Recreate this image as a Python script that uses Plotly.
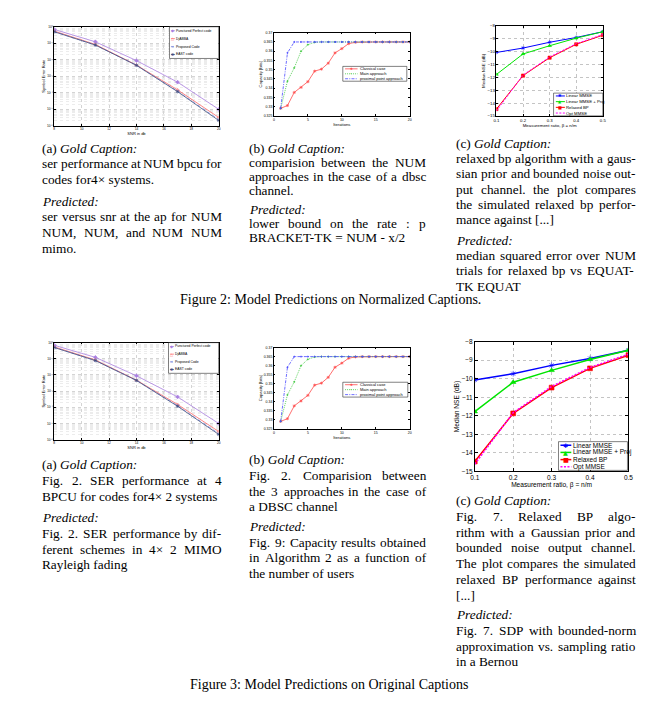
import plotly.graph_objects as go

FIG_W, FIG_H = 661, 711
SERIF = "Liberation Serif, Times New Roman, serif"
SANS = "Liberation Sans, Arial, sans-serif"

# ---------------- data : (a) SER vs SNR ----------------
snr_db = [8, 11, 14, 17, 20]
ser_punctured = [0.69, 0.123, 8.9e-3, 4.4e-4, 1.0e-5]
ser_djabba = [0.55, 0.085, 4.8e-3, 1.5e-4, 3.2e-6]
ser_proposed = [0.51, 0.079, 4.7e-3, 1.26e-4, 2.4e-6]
ser_east = [0.50, 0.078, 4.6e-3, 1.17e-4, 2.1e-6]
ser_names = ["Punctured Perfect code", "DjABBA", "Proposed Code", "EAST code"]
snr_ticks = [8, 10, 12, 14, 16, 18, 20]
ser_tick_exponents = [0, -1, -2, -3, -4, -5, -6]
ser_tick_labels = ["10\u2070", "10\u207b\u00b9", "10\u207b\u00b2", "10\u207b\u00b3",
                   "10\u207b\u2074", "10\u207b\u2075", "10\u207b\u2076"]

# ---------------- data : (b) capacity vs iterations ----------------
iterations = [1, 2, 3, 4, 5, 6, 7, 8, 9, 10, 11, 12, 13, 14, 15, 16, 17, 18, 19, 20]
cap_classical = [0.3291, 0.3306, 0.3377, 0.3404, 0.3435, 0.3492, 0.3503, 0.3535, 0.3591, 0.3614,
                 0.3641, 0.3648, 0.3650, 0.3650, 0.3650, 0.3650, 0.3650, 0.3650, 0.3650, 0.3650]
cap_main = [0.3291, 0.3438, 0.3510, 0.3600, 0.3635, 0.3648, 0.3650, 0.3650, 0.3650, 0.3650,
            0.3650, 0.3650, 0.3650, 0.3650, 0.3650, 0.3650, 0.3650, 0.3650, 0.3650, 0.3650]
cap_proximal = [0.3291, 0.3591, 0.3650, 0.3650, 0.3650, 0.3650, 0.3650, 0.3650, 0.3650, 0.3650,
                0.3650, 0.3650, 0.3650, 0.3650, 0.3650, 0.3650, 0.3650, 0.3650, 0.3650, 0.3650]
cap_names = ["Classical case", "Main approach", "proximal point approach"]
iter_ticks = [0, 5, 10, 15, 20]
cap_ticks = [0.325, 0.33, 0.335, 0.34, 0.345, 0.35, 0.355, 0.36, 0.365, 0.37]
cap_tick_labels = ["0.325", "0.33", "0.335", "0.34", "0.345", "0.35", "0.355", "0.36", "0.365", "0.37"]

# ---------------- data : (c) NSE vs measurement ratio ----------------
ratio = [0.1, 0.2, 0.3, 0.4, 0.5]
nse_linear = [-10.07, -9.73, -9.28, -8.91, -8.46]
nse_linear_proj = [-11.78, -10.19, -9.55, -8.96, -8.46]
nse_relaxed = [-14.47, -11.87, -10.48, -9.44, -8.73]
nse_opt = [-14.61, -11.83, -10.42, -9.39, -8.68]
nse_names = ["Linear MMSE", "Linear MMSE + Proj", "Relaxed BP", "Opt MMSE"]
ratio_ticks = [0.1, 0.2, 0.3, 0.4, 0.5]
nse_ticks = [-15, -14, -13, -12, -11, -10, -9, -8]

# ---------------- caption texts ----------------
fig2_title = "Figure 2: Model Predictions on Normalized Captions."
fig3_title = "Figure 3: Model Predictions on Original Captions"
cap_a1_gold = ["ser performance at NUM bpcu for", "codes for4\u00d7 systems."]
cap_a1_pred = ["ser versus snr at the ap for NUM", "NUM, NUM, and NUM NUM", "mimo."]
cap_b1_gold = ["comparision between the NUM", "approaches in the case of a dbsc", "channel."]
cap_b1_pred = ["lower bound on the rate : p", "BRACKET-TK = NUM - x/2"]
cap_c1_gold = ["relaxed bp algorithm with a gaus-", "sian prior and bounded noise out-",
               "put channel. the plot compares", "the simulated relaxed bp perfor-",
               "mance against [...]"]
cap_c1_pred = ["median squared error over NUM", "trials for relaxed bp vs EQUAT-", "TK EQUAT"]
cap_a2_gold = ["Fig. 2. SER performance at 4", "BPCU for codes for4\u00d7 2 systems"]
cap_a2_pred = ["Fig. 2. SER performance by dif-", "ferent schemes in 4\u00d7 2 MIMO", "Rayleigh fading"]
cap_b2_gold = ["Fig. 2. Comparision between", "the 3 approaches in the case of", "a DBSC channel"]
cap_b2_pred = ["Fig. 9: Capacity results obtained", "in Algorithm 2 as a function of",
               "the number of users"]
cap_c2_gold = ["Fig. 7. Relaxed BP algo-", "rithm with a Gaussian prior and",
               "bounded noise output channel.", "The plot compares the simulated",
               "relaxed BP performance against", "[...]"]
cap_c2_pred = ["Fig. 7. SDP with bounded-norm", "approximation vs. sampling ratio", "in a Bernou"]

# ---------------- helpers ----------------
fig = go.Figure()
layout_axes = {}
shapes = []
annotations = []


def fx(x):
    return x / FIG_W


def fy(y):
    return 1 - y / FIG_H


def aref(n, kind):
    return kind + ("" if n == 1 else str(n))


def aname(n, kind):
    return kind + "axis" + ("" if n == 1 else str(n))


PANELS = {
    "a1": dict(n=1, box=(50, 23, 217, 123), tick=3.2, title=4.0, leg=3.4, mk=3.0, lw=0.8),
    "b1": dict(n=2, box=(273, 29, 411, 113), tick=3.5, title=4.2, leg=4.0, mk=2.6, lw=0.8),
    "c1": dict(n=3, box=(499, 22, 607, 113), tick=4.3, title=4.4, leg=4.3, mk=3.2, lw=1.0),
    "a2": dict(n=4, box=(50, 342, 217, 440), tick=3.2, title=4.0, leg=3.4, mk=3.0, lw=0.8),
    "b2": dict(n=5, box=(273, 347, 411, 429), tick=3.5, title=4.2, leg=4.0, mk=2.6, lw=0.8),
    "c2": dict(n=6, box=(477, 341, 633, 472), tick=6.5, title=6.6, leg=6.5, mk=4.8, lw=1.5),
}


def setup_axes(p, xcfg, ycfg, xtitle, ytitle):
    n = p["n"]
    x0, y0, x1, y1 = p["box"]
    common = dict(showline=True, linecolor="black", linewidth=0.5, mirror="ticks",
                  ticks="inside", ticklen=max(1.5, p["tick"] * 0.5), tickwidth=0.5,
                  tickcolor="black", zeroline=False, fixedrange=True,
                  tickfont=dict(size=p["tick"], family=SANS, color="black"))
    xa = dict(common, domain=[fx(x0), fx(x1)], anchor=aref(n, "y"),
              title=dict(text=xtitle, standoff=1,
                         font=dict(size=p["title"], family=SANS, color="black")), **xcfg)
    ya = dict(common, domain=[fy(y1), fy(y0)], anchor=aref(n, "x"),
              title=dict(text=ytitle, standoff=1,
                         font=dict(size=p["title"], family=SANS, color="black")), **ycfg)
    layout_axes[aname(n, "x")] = xa
    layout_axes[aname(n, "y")] = ya


def add_series(p, x, y, color, symbol, dash, mk_scale=1.0, lw_scale=1.0, mode="lines+markers"):
    n = p["n"]
    fig.add_trace(go.Scatter(
        x=x, y=y, mode=mode, xaxis=aref(n, "x"), yaxis=aref(n, "y"),
        line=dict(color=color, width=p["lw"] * lw_scale, dash=dash),
        marker=dict(symbol=symbol, size=p["mk"] * mk_scale, color=color,
                    line=dict(color=color, width=0.6)),
        showlegend=False, hoverinfo="skip"))


def add_text(x, y, text, size, anchor="left", family=SERIF, color="black"):
    annotations.append(dict(x=fx(x), y=fy(y), xref="paper", yref="paper", text=text,
                            showarrow=False, xanchor=anchor, yanchor="middle",
                            borderpad=0, borderwidth=0,
                            font=dict(size=size, family=family, color=color)))


def draw_legend(p, box, names, styles, l0, l1, tx):
    x0, y0, x1, y1 = box
    shapes.append(dict(type="rect", xref="paper", yref="paper", x0=fx(x0), x1=fx(x1),
                       y0=fy(y1), y1=fy(y0), line=dict(color="black", width=0.5),
                       fillcolor="white", layer="above"))
    n = len(names)
    for i, name in enumerate(names):
        color, dash, glyph = styles[i]
        yc = y0 + (i + 0.5) * (y1 - y0) / n
        shapes.append(dict(type="line", xref="paper", yref="paper", x0=fx(x0 + l0),
                           x1=fx(x0 + l1), y0=fy(yc), y1=fy(yc), layer="above",
                           line=dict(color=color, width=p["lw"], dash=dash)))
        if glyph:
            add_text(x0 + (l0 + l1) / 2, yc, glyph, p["mk"] * 1.3, anchor="center",
                     family="DejaVu Sans", color=color)
        add_text(x0 + tx, yc, name, p["leg"], family=SANS)


# ---------------- (a) panels ----------------
ser_styles = [("#A97FE0", "solid", "diamond", "\u25c6"),
              ("#FF6A6A", "solid", "triangle-up-open", "\u25b3"),
              ("#8090E0", "dot", "x-thin-open", "\u00d7"),
              ("#3E4D7E", "solid", "asterisk-open", "\u2731")]
ser_data = [ser_punctured, ser_djabba, ser_proposed, ser_east]
for key, lbox in (("a1", (167, 23, 217, 55)), ("a2", (166, 342, 217, 373))):
    p = PANELS[key]
    grid = dict(showgrid=True, gridcolor="#d4d4d4", gridwidth=0.5, griddash="dot")
    setup_axes(
        p,
        dict(range=[8, 20], tickvals=snr_ticks, **grid),
        dict(type="log", range=[min(ser_tick_exponents), max(ser_tick_exponents)],
             tickvals=[10.0 ** e for e in ser_tick_exponents],
             ticktext=ser_tick_labels,
             minor=dict(dtick="D1", showgrid=True, gridcolor="#ececec", gridwidth=0.4,
                        griddash="dot", ticks=""), **grid),
        "SNR in db", "Symbol Error Rate")
    for vals, (c, d, s, g) in zip(ser_data, ser_styles):
        add_series(p, snr_db, vals, c, s, d)
    draw_legend(p, lbox, ser_names, [(c, d, g) for c, d, s, g in ser_styles], 1.5, 5.5, 6.5)

# ---------------- (b) panels ----------------
cap_styles = [("#FF4A4A", "solid", "asterisk-open", "\u2731"),
              ("#3CC83C", "1px,1px", "circle", "\u2022"),
              ("#4A4AFF", "3px,1.2px,1px,1.2px", "circle", "")]
cap_data = [cap_classical, cap_main, cap_proximal]
for key, lbox in (("b1", (343, 63, 408, 78)), ("b2", (343, 382, 409, 397))):
    p = PANELS[key]
    setup_axes(
        p,
        dict(range=[0, 20], tickvals=iter_ticks, showgrid=False),
        dict(range=[min(cap_ticks), max(cap_ticks)], tickvals=cap_ticks,
             ticktext=cap_tick_labels, showgrid=False),
        "Iterations", "Capacity [bits]")
    for vals, (c, d, s, g), mks in zip(cap_data, cap_styles, (1.0, 0.5, 0.5)):
        add_series(p, iterations, vals, c, s, d, mk_scale=mks)
    draw_legend(p, lbox, cap_names, [(c, d, g) for c, d, s, g in cap_styles], 2.3, 15, 17)

# ---------------- (c) panels ----------------
nse_styles = [("#0000FF", "solid", "asterisk-open", "\u2731", "lines+markers"),
              ("#00E400", "solid", "triangle-up", "\u25b2", "lines+markers"),
              ("#FF0000", "solid", "square", "\u25a0", "lines+markers"),
              ("#FF00FF", "2px,1.5px", "circle", "", "lines")]
nse_data = [nse_linear, nse_linear_proj, nse_relaxed, nse_opt]
for key, lbox, lg in (("c1", (557, 90, 607, 113), (2.3, 11.5, 13)),
                      ("c2", (562, 442, 632, 471), (2, 13, 15))):
    p = PANELS[key]
    grid = dict(showgrid=True, gridcolor="#c4c4c4", gridwidth=0.5, griddash="dot")
    setup_axes(
        p,
        dict(range=[min(ratio_ticks), max(ratio_ticks)], tickvals=ratio_ticks, **grid),
        dict(range=[min(nse_ticks), max(nse_ticks)], tickvals=nse_ticks, **grid),
        "Measurement ratio, \u03b2 = n/m", "Median NSE (dB)")
    for vals, (c, d, s, g, m) in zip(nse_data, nse_styles):
        add_series(p, ratio, vals, c, s, d, mode=m)
    draw_legend(p, lbox, nse_names, [(c, d, g) for c, d, s, g, m in nse_styles], *lg)

# ---------------- captions ----------------
TIMES_W = {' ': 250, '!': 333, '"': 408, '(': 333, ')': 333, '*': 500, '+': 564, ',': 250,
           '-': 333, '.': 250, '/': 278, ':': 278, ';': 278, '=': 564, '?': 444, '[': 333,
           ']': 333, '\u00d7': 564}
for ch in "0123456789":
    TIMES_W[ch] = 500
for ch, w in zip("ABCDEFGHIJKLMNOPQRSTUVWXYZ",
                 [722, 667, 667, 722, 611, 556, 722, 722, 333, 389, 722, 611, 889, 722, 722,
                  556, 722, 667, 556, 611, 722, 722, 944, 722, 722, 611]):
    TIMES_W[ch] = w
for ch, w in zip("abcdefghijklmnopqrstuvwxyz",
                 [444, 500, 444, 500, 444, 333, 500, 500, 278, 278, 500, 278, 778, 500, 500,
                  500, 500, 333, 389, 278, 500, 500, 722, 500, 500, 444]):
    TIMES_W[ch] = w

FS = 13.3
FS_FIG = 14.0


def tw(s, fs):
    return sum(TIMES_W.get(ch, 500) for ch in s) * fs / 1000.0


def place_line(x0, x1, y, line, justify):
    words = line.split()
    if not justify or len(words) < 2:
        add_text(x0, y, line, FS)
        return
    widths = [tw(w, FS) for w in words]
    gap = (x1 - x0 - sum(widths)) / (len(words) - 1)
    x = x0
    for w, wd in zip(words, widths):
        add_text(x, y, w, FS)
        x += wd + gap


def caption_block(x0, x1, y, label, gold, pred, step, para):
    add_text(x0, y, "(%s) <i>Gold Caption:</i>" % label, FS)
    for i, line in enumerate(gold):
        y += step
        place_line(x0, x1, y, line, i < len(gold) - 1)
    y += step + para
    add_text(x0, y, "<i>Predicted:</i>", FS)
    for i, line in enumerate(pred):
        y += step
        place_line(x0, x1, y, line, i < len(pred) - 1)


caption_block(38, 219.5, 145.5, "a", cap_a1_gold, cap_a1_pred, 16.0, 5.5)
caption_block(248, 427, 146, "b", cap_b1_gold, cap_b1_pred, 14.0, 6.0)
caption_block(458, 640, 140.5, "c", cap_c1_gold, cap_c1_pred, 15.5, 5.0)
caption_block(38, 219.5, 465.5, "a", cap_a2_gold, cap_a2_pred, 16.0, 5.0)
caption_block(248, 427, 460.5, "b", cap_b2_gold, cap_b2_pred, 15.8, 4.0)
caption_block(458, 640, 501.5, "c", cap_c2_gold, cap_c2_pred, 15.9, 4.0)
add_text(330.5, 298, fig2_title, FS_FIG, anchor="center")
add_text(329, 687, fig3_title, FS_FIG, anchor="center")

fig.update_layout(
    width=FIG_W, height=FIG_H, margin=dict(l=0, r=0, t=0, b=0, pad=0),
    paper_bgcolor="white", plot_bgcolor="white", showlegend=False,
    shapes=shapes, annotations=annotations, **layout_axes)

fig.write_html("out.html", config={"displayModeBar": False},
               post_script="document.body.style.margin='0';")
